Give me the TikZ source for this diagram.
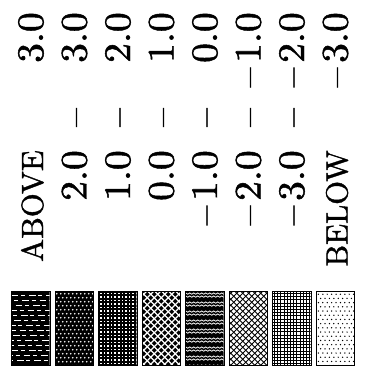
\documentclass[tikz,border=0pt]{standalone}
\usepackage{fontspec}
\newfontfamily\scanfont{lmroman10-regular.otf}[FakeBold=1.3]
\begin{document}
\newcommand\mn{\textendash\kern0.12em}
\newcommand\widen[1]{\scalebox{1.06}[1.0]{#1}}
\newcommand\patA{\fill[black] (0,0) rectangle (38,73);
  \foreach \r in {0,...,13}{\pgfmathsetmacro\ph{mod(\r*5,14)}
    \pgfmathsetmacro\yy{4+5*\r}
    \draw[white,line width=0.4pt,dash pattern=on 5pt off 2pt on 3pt off 3pt,dash phase=\ph pt] (0,\yy) -- (38,\yy);}}
\newcommand\patB{\fill[black] (0,0) rectangle (38,73);
  \foreach \r in {0,...,18}{\foreach \c in {0,...,9}{
    \fill[white] ({1.5+4*\c+2*mod(\r,2)},{2+4*\r}) circle[radius=0.6pt];}}}
\newcommand\patC{\fill[black] (0,0) rectangle (38,73);
  \foreach \r in {0,...,20}{\foreach \c in {0,...,10}{
    \fill[white] ({1.2+3.6*\c},{1.2+3.5*\r}) rectangle +(1.7,1.5);}}}
\newcommand\patD{\fill[black] (0,0) rectangle (38,73);
  \foreach \k in {-78,-71,...,42}{
    \draw[white,line width=1pt] (\k,0) -- ++(75,75);
    \draw[white,line width=1pt] (\k,75) -- ++(75,-75);}}
\newcommand\patE{\fill[black] (0,0) rectangle (38,73);
  \foreach \r in {0,...,24}{\pgfmathtruncatemacro\skp{mod(\r,3)}
    \ifnum\skp<2
      \pgfmathsetmacro\yy{1.2+3*\r}
      \draw[white,line width=0.6pt] (0,\yy) \foreach \t in {1,...,19}{ -- ({2*\t},{\yy+1.3*mod(\t,2)}) };
    \fi}}
\newcommand\patF{\fill[white] (0,0) rectangle (38,73);
  \foreach \k in {-78,-72,...,42}{
    \draw[black,line width=0.75pt] (\k,0) -- ++(75,75);
    \draw[black,line width=0.75pt] (\k,75) -- ++(75,-75);}}
\newcommand\patG{\fill[white] (0,0) rectangle (38,73);
  \foreach \c in {0,...,12}{\draw[black,line width=0.5pt] ({1.5+3.2*\c},0) -- ++(0,73);}
  \foreach \r in {0,...,23}{\draw[black,line width=0.5pt] (0,{1.5+3.2*\r}) -- ++(38,0);}}
\newcommand\patH{\fill[white] (0,0) rectangle (38,73);
  \foreach \r in {0,...,17}{\foreach \c in {0,...,8}{
    \fill[black] ({2.2+4.4*\c+2.2*mod(\r,2)},{2.5+4.2*\r}) circle[radius=0.55pt];}}}
\begin{tikzpicture}[x=0.75pt,y=-0.75pt,
  num/.style={rotate=90,anchor=base east,inner sep=0pt,font=\scanfont\bfseries\fontsize{28}{30}\selectfont},
  word/.style={rotate=90,anchor=base east,inner sep=0pt,font=\scanfont\bfseries\fontsize{23}{27}\selectfont},
  sepdash/.style={rotate=90,anchor=base,inner sep=0pt,font=\scanfont\bfseries\fontsize{28}{30}\selectfont},
  swatch/.style={rectangle,inner sep=0pt,minimum width=28.5pt,minimum height=54.75pt},
  swborder/.style={draw=black,line width=1pt}]
\useasboundingbox (0,0) rectangle (366,372);
% column 0
\node[word] (a0) at (43,150) {ABOVE};
\node[num] (b0) at (43,12) {\widen{3.0}};
% columns 1..6
\foreach \i/\lo/\hi in {1/2.0/3.0, 2/1.0/2.0, 3/0.0/1.0, 4/\mn1.0/0.0, 5/\mn2.0/\mn1.0, 6/\mn3.0/\mn2.0}{
  \pgfmathsetmacro\bx{43+43.5*\i}
  \node[num] (a\i) at (\bx,150) {\widen{\lo}};
  \node[sepdash] (d\i) at (\bx,117.5) {\textendash};
  \node[num] (b\i) at (\bx,12) {\widen{\hi}};
}
% column 7
\node[word] (a7) at (347.5,150) {BELOW};
\node[num] (b7) at (347.5,12) {\widen{\mn3.0}};
% swatches
\foreach \i/\p in {0/A,1/B,2/C,3/D,4/E,5/F,6/G,7/H}{
  \pgfmathsetmacro\cx{31+43.5*\i}
  \node[swatch] (s\i) at (\cx,328.5) {};
  \begin{scope}[shift={(s\i.north west)}]
    \clip (0,0) rectangle (38,73);
    \csname pat\p\endcsname
  \end{scope}
  \draw[swborder] (s\i.north west) rectangle (s\i.south east);
}
\end{tikzpicture}
\end{document}
